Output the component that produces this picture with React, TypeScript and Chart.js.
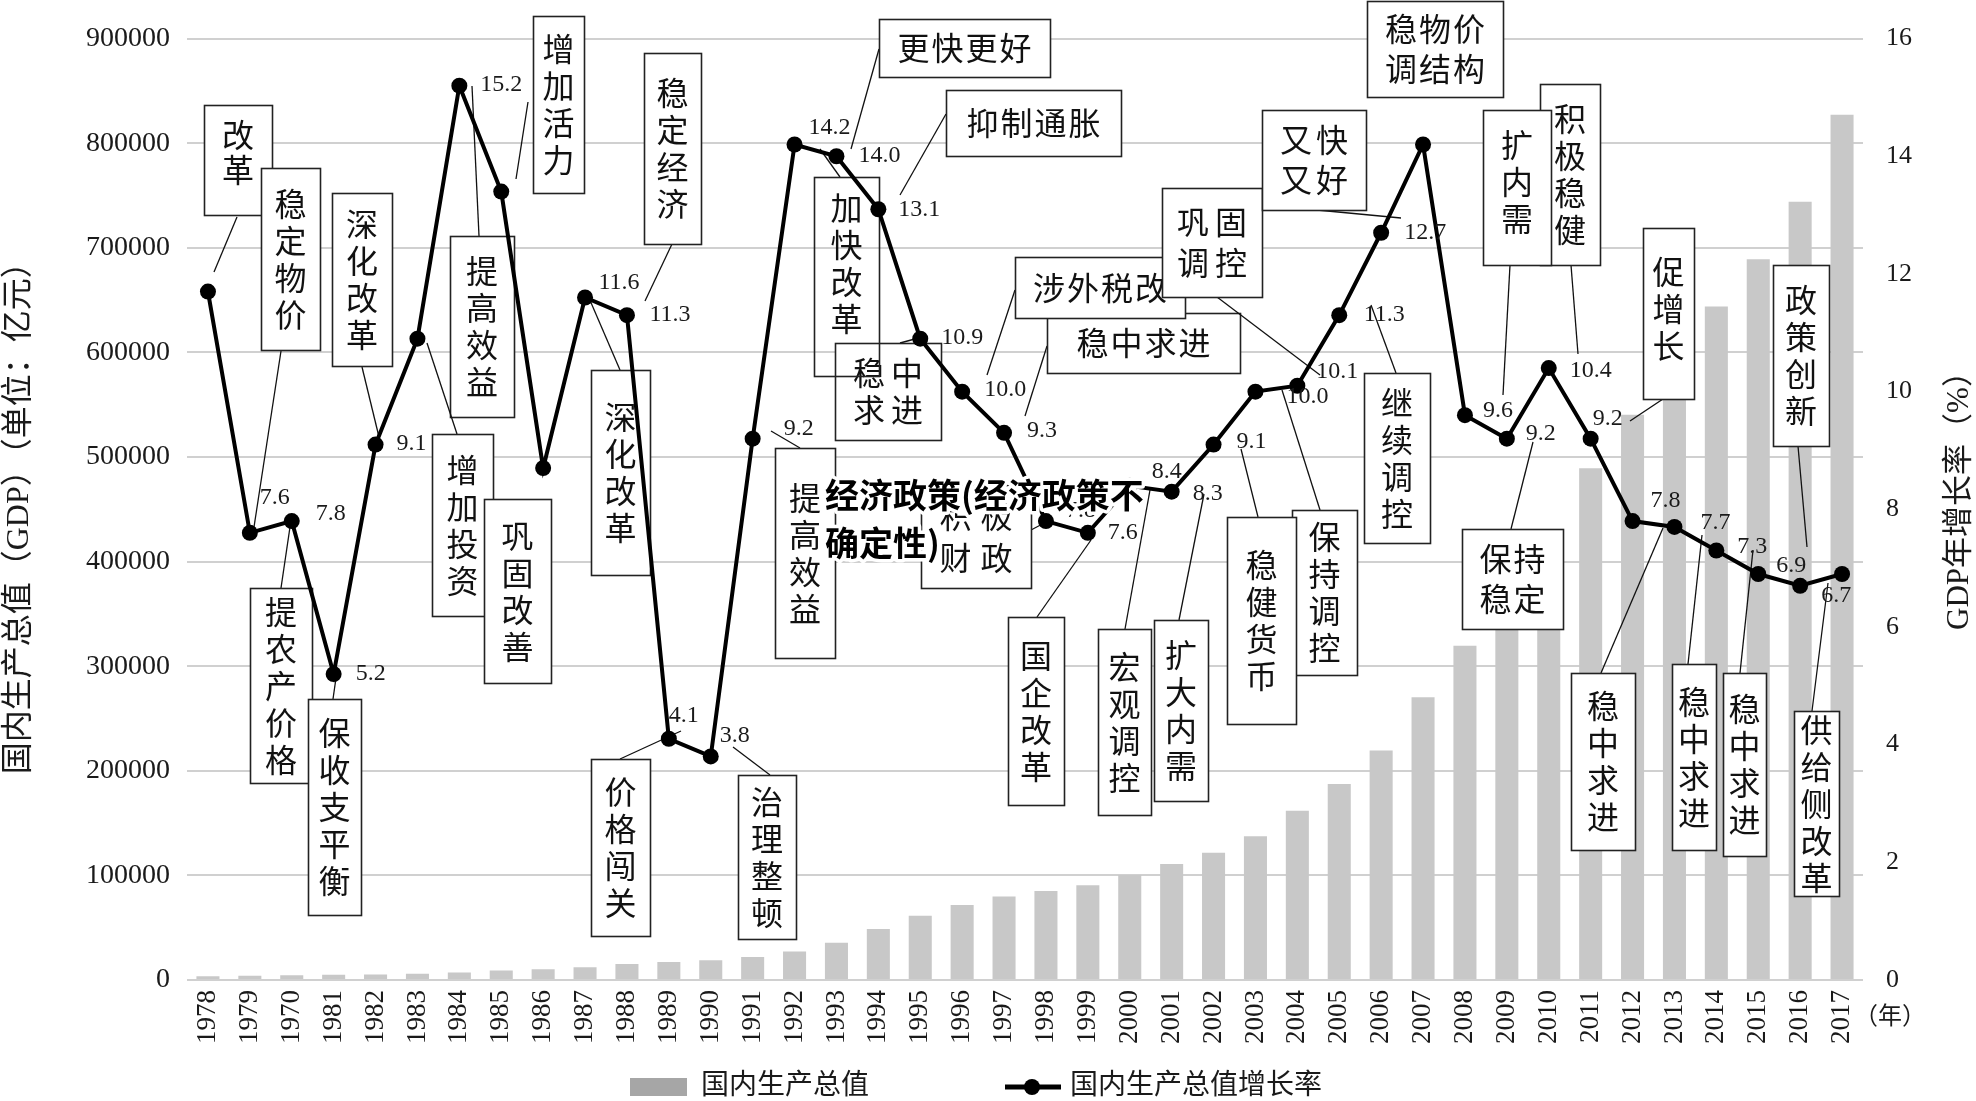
import React, { useEffect, useRef } from 'react';
import { Chart, registerables } from 'chart.js';

Chart.register(...registerables);

// ---------- data ----------
const yearLabels = [
  '1978', '1979', '1970', '1981', '1982', '1983', '1984', '1985', '1986', '1987',
  '1988', '1989', '1990', '1991', '1992', '1993', '1994', '1995', '1996', '1997',
  '1998', '1999', '2000', '2001', '2002', '2003', '2004', '2005', '2006', '2007',
  '2008', '2009', '2010', '2011', '2012', '2013', '2014', '2015', '2016', '2017',
];

// 国内生产总值（亿元）
const gdpValues = [
  3679, 4100, 4588, 4936, 5373, 6021, 7279, 9099, 10376, 12175,
  15180, 17180, 18873, 22006, 27195, 35673, 48638, 61340, 71814, 79715,
  85196, 90564, 100280, 110863, 121717, 137422, 161840, 187319, 219439, 270232,
  319516, 349081, 413030, 489301, 540367, 595244, 643974, 689052, 744127, 827122,
];

// 国内生产总值增长率（%）
const growthValues = [
  11.7, 7.6, 7.8, 5.2, 9.1, 10.9, 15.2, 13.4, 8.7, 11.6,
  11.3, 4.1, 3.8, 9.2, 14.2, 14.0, 13.1, 10.9, 10.0, 9.3,
  7.8, 7.6, 8.4, 8.3, 9.1, 10.0, 10.1, 11.3, 12.7, 14.2,
  9.6, 9.2, 10.4, 9.2, 7.8, 7.7, 7.3, 6.9, 6.7, 6.9,
];

// which growth points carry a value label
const growthLabelShown = [
  false, true, true, true, true, false, true, false, false, true,
  true, true, true, true, true, true, true, true, true, true,
  true, true, true, true, true, true, true, true, true, false,
  true, true, true, true, true, true, true, true, true, false,
];

const seriesNames = ['国内生产总值', '国内生产总值增长率'];
const leftAxisTitle = '国内生产总值（GDP）（单位：亿元）';
const rightAxisTitle = 'GDP年增长率（%）';
const xUnitLabel = '（年）';
const overlayTitleLines = ['经济政策(经济政策不', '确定性)'];

// ---------- layout (annotation placement, px offsets) ----------
const growthLabelOffsets: [number, number][] = [
  [0, 0], [25, -35], [39, -7], [37, 0], [36, -1], [0, 0], [42, -1], [0, 0], [0, 0], [34, -15],
  [43, 0], [15, -23], [24, -21], [46, -10], [35, -17], [43, -1], [41, 0], [42, -1], [43, -2], [38, -2],
  [35, -10], [35, 0], [37, -14], [36, 2], [38, -3], [52, 5], [40, -14], [45, 0], [44, 0], [0, 0],
  [33, -4], [34, -5], [42, 3], [17, -20], [33, -20], [41, -4], [36, -4], [33, -8], [36, 10], [0, 0],
];

type Note = {
  rows: string[];
  vertical?: boolean;
  pitch?: number;
  rowPitch?: number;
  dy?: number;
  noFill?: boolean;
  box: [number, number, number, number];
  leader?: [number, number, number, number];
};

const policyNotes: Note[] = [
  { rows: ['改革'], vertical: true, pitch: 35, dy: -8, box: [204, 105, 272, 215], leader: [237, 217, 214, 272] },
  { rows: ['稳定物价'], vertical: true, box: [261, 168, 320, 350], leader: [281, 351, 254, 527] },
  { rows: ['深化改革'], vertical: true, box: [332, 193, 392, 366], leader: [362, 367, 379, 437] },
  { rows: ['增加活力'], vertical: true, box: [533, 16, 584, 193], leader: [528, 102, 516, 179] },
  { rows: ['提高效益'], vertical: true, box: [450, 236, 514, 417], leader: [479, 236, 472, 86] },
  { rows: ['稳定经济'], vertical: true, box: [644, 53, 701, 244], leader: [672, 244, 645, 301] },
  { rows: ['增加投资'], vertical: true, box: [432, 434, 493, 616], leader: [457, 434, 427, 343] },
  { rows: ['巩固改善'], vertical: true, box: [484, 499, 551, 683] },
  { rows: ['深化改革'], vertical: true, box: [591, 370, 650, 575], leader: [620, 370, 589, 298] },
  { rows: ['提农产价格'], vertical: true, box: [250, 588, 312, 783], leader: [281, 588, 290, 527] },
  { rows: ['保收支平衡'], vertical: true, box: [308, 699, 361, 915], leader: [333, 699, 336, 678] },
  { rows: ['价格闯关'], vertical: true, box: [591, 759, 650, 936], leader: [620, 759, 681, 731] },
  { rows: ['治理整顿'], vertical: true, box: [738, 775, 796, 939], leader: [770, 775, 733, 747] },
  { rows: ['提高效益'], vertical: true, box: [775, 448, 835, 658], leader: [800, 448, 771, 431] },
  { rows: ['积极', '财政'], pitch: 41, rowPitch: 42, box: [921, 485, 1031, 588], leader: [1031, 530, 1050, 520] },
  { rows: ['稳中', '求进'], pitch: 38, rowPitch: 37, box: [835, 343, 941, 440], leader: [900, 343, 926, 336] },
  { rows: ['加快改革'], vertical: true, dy: -13, noFill: true, box: [814, 177, 879, 376], leader: [840, 177, 820, 149] },
  { rows: ['更快更好'], box: [879, 19, 1050, 77], leader: [879, 49, 851, 149] },
  { rows: ['抑制通胀'], box: [946, 90, 1121, 156], leader: [946, 114, 900, 195] },
  { rows: ['稳中求进'], box: [1047, 313, 1240, 373], leader: [1047, 346, 1025, 416] },
  { rows: ['涉外税改'], box: [1015, 257, 1185, 318], leader: [1015, 290, 987, 375] },
  { rows: ['巩固', '调控'], pitch: 38, rowPitch: 41, box: [1162, 188, 1262, 297], leader: [1217, 297, 1320, 375] },
  { rows: ['又快', '又好'], pitch: 36, rowPitch: 40, box: [1262, 110, 1366, 210], leader: [1317, 210, 1401, 218] },
  { rows: ['稳物价', '调结构'], pitch: 34, rowPitch: 40, box: [1367, 1, 1503, 97] },
  { rows: ['积极稳健'], vertical: true, box: [1540, 84, 1600, 265], leader: [1571, 265, 1578, 354] },
  { rows: ['扩内需'], vertical: true, dy: -6, box: [1483, 110, 1551, 265], leader: [1510, 265, 1503, 395] },
  { rows: ['促增长'], vertical: true, dy: -5, box: [1643, 228, 1694, 399], leader: [1663, 399, 1630, 421] },
  { rows: ['政策创新'], vertical: true, box: [1773, 265, 1829, 446], leader: [1798, 446, 1807, 547] },
  { rows: ['继续调控'], vertical: true, box: [1364, 373, 1430, 543], leader: [1396, 373, 1371, 305] },
  { rows: ['保持调控'], vertical: true, box: [1292, 510, 1357, 675], leader: [1320, 510, 1282, 390] },
  { rows: ['稳健货币'], vertical: true, box: [1227, 517, 1296, 724], leader: [1258, 517, 1241, 449] },
  { rows: ['保持', '稳定'], pitch: 34, rowPitch: 40, box: [1462, 529, 1563, 629], leader: [1511, 529, 1533, 442] },
  { rows: ['国企改革'], vertical: true, box: [1008, 617, 1064, 805], leader: [1037, 617, 1091, 540] },
  { rows: ['宏观调控'], vertical: true, box: [1098, 629, 1151, 815], leader: [1125, 629, 1150, 490] },
  { rows: ['扩大内需'], vertical: true, box: [1154, 620, 1208, 801], leader: [1179, 620, 1204, 494] },
  { rows: ['稳中求进'], vertical: true, box: [1571, 673, 1635, 850], leader: [1601, 673, 1663, 528] },
  { rows: ['稳中求进'], vertical: true, box: [1672, 664, 1716, 850], leader: [1688, 664, 1702, 535] },
  { rows: ['稳中求进'], vertical: true, box: [1723, 673, 1766, 856], leader: [1740, 673, 1753, 550] },
  { rows: ['供给侧改革'], vertical: true, box: [1794, 711, 1839, 896], leader: [1812, 711, 1828, 583] },
];

const SERIF = "'Liberation Serif', 'Noto Sans CJK SC', serif";
const CJK = "'Noto Sans CJK SC', 'Liberation Serif', sans-serif";
const BAR_COLOR = '#c8c8c8';
const GRID_COLOR = '#d0d0d0';
const TEXT_COLOR = '#1a1a1a';

function drawNote(ctx: CanvasRenderingContext2D, n: Note) {
  const [x1, y1, x2, y2] = n.box;
  if (n.leader) {
    const [a, b, c, d] = n.leader;
    ctx.beginPath();
    ctx.moveTo(a, b);
    ctx.lineTo(c, d);
    ctx.strokeStyle = '#111';
    ctx.lineWidth = 1.3;
    ctx.stroke();
  }
  if (!n.noFill) {
    ctx.fillStyle = '#ffffff';
    ctx.fillRect(x1, y1, x2 - x1, y2 - y1);
  }
  ctx.strokeStyle = '#222';
  ctx.lineWidth = 1.6;
  ctx.strokeRect(x1 + 0.5, y1 + 0.5, x2 - x1, y2 - y1);
  ctx.fillStyle = '#111';
  ctx.font = `32px ${CJK}`;
  ctx.textAlign = 'center';
  ctx.textBaseline = 'middle';
  const cx = (x1 + x2) / 2;
  const cy = (y1 + y2) / 2 + (n.dy ?? 0);
  if (n.vertical) {
    const chars = Array.from(n.rows[0]);
    const p = n.pitch ?? 37;
    const start = cy - ((chars.length - 1) * p) / 2;
    chars.forEach((ch, i) => ctx.fillText(ch, cx, start + i * p));
  } else {
    const p = n.pitch ?? 34;
    const rp = n.rowPitch ?? 40;
    n.rows.forEach((row, r) => {
      const chars = Array.from(row);
      const y = cy + (r - (n.rows.length - 1) / 2) * rp;
      const sx = cx - ((chars.length - 1) * p) / 2;
      chars.forEach((ch, i) => ctx.fillText(ch, sx + i * p, y));
    });
  }
}

const annotationPlugin = {
  id: 'policyAnnotations',
  beforeDatasetDraw(chart: any, args: any) {
    if (args.index !== 0) return;
    const ctx: CanvasRenderingContext2D = chart.ctx;
    ctx.save();
    policyNotes.forEach((n) => drawNote(ctx, n));
    ctx.restore();
  },
  afterDatasetsDraw(chart: any) {
    const ctx: CanvasRenderingContext2D = chart.ctx;
    const meta = chart.getDatasetMeta(0);
    ctx.save();
    ctx.font = `24px ${SERIF}`;
    ctx.fillStyle = '#1a1a1a';
    ctx.textAlign = 'center';
    ctx.textBaseline = 'middle';
    meta.data.forEach((pt: any, i: number) => {
      if (!growthLabelShown[i]) return;
      const [dx, dy] = growthLabelOffsets[i];
      ctx.fillText(growthValues[i].toFixed(1), pt.x + dx, pt.y + dy);
    });
    // overlay title
    ctx.font = `bold 34px ${CJK}`;
    ctx.textAlign = 'left';
    ctx.textBaseline = 'middle';
    ctx.lineJoin = 'round';
    overlayTitleLines.forEach((line, i) => {
      const y = 495 + i * 48;
      ctx.strokeStyle = '#ffffff';
      ctx.lineWidth = 7;
      ctx.strokeText(line, 825, y);
      ctx.fillStyle = '#000000';
      ctx.fillText(line, 825, y);
    });
    ctx.restore();
  },
  afterDraw(chart: any) {
    const ctx: CanvasRenderingContext2D = chart.ctx;
    const area = chart.chartArea;
    ctx.save();
    ctx.fillStyle = TEXT_COLOR;
    ctx.textAlign = 'center';
    ctx.textBaseline = 'middle';
    // left axis title
    ctx.save();
    ctx.translate(20, (area.top + area.bottom) / 2 + 1);
    ctx.rotate(-Math.PI / 2);
    ctx.font = `32px ${SERIF}`;
    ctx.fillText(leftAxisTitle, 0, 0);
    ctx.restore();
    // right axis title
    ctx.save();
    ctx.translate(1960, 493);
    ctx.rotate(-Math.PI / 2);
    ctx.font = `31px ${SERIF}`;
    ctx.fillText(rightAxisTitle, 0, 0);
    ctx.restore();
    // x unit
    ctx.font = `24px ${SERIF}`;
    ctx.fillText(xUnitLabel, 1890, 1018);
    // legend
    const ly = 1087;
    ctx.fillStyle = '#a6a6a6';
    ctx.fillRect(630, ly - 9, 57, 18);
    ctx.fillStyle = TEXT_COLOR;
    ctx.font = `28px ${SERIF}`;
    ctx.textAlign = 'left';
    ctx.fillText(seriesNames[0], 701, ly);
    ctx.beginPath();
    ctx.moveTo(1005, ly);
    ctx.lineTo(1061, ly);
    ctx.strokeStyle = '#000';
    ctx.lineWidth = 5;
    ctx.stroke();
    ctx.beginPath();
    ctx.arc(1032, ly, 8, 0, Math.PI * 2);
    ctx.fillStyle = '#000';
    ctx.fill();
    ctx.fillStyle = TEXT_COLOR;
    ctx.fillText(seriesNames[1], 1070, ly);
    ctx.restore();
  },
};

export default function App() {
  const canvasRef = useRef<HTMLCanvasElement | null>(null);

  useEffect(() => {
    const canvas = canvasRef.current;
    if (!canvas) return;
    Chart.defaults.font.family = SERIF;
    Chart.defaults.color = TEXT_COLOR;
    const chart = new Chart(canvas, {
      type: 'bar',
      data: {
        labels: yearLabels,
        datasets: [
          {
            type: 'line',
            label: seriesNames[1],
            data: growthValues,
            yAxisID: 'y1',
            order: 0,
            borderColor: '#000000',
            backgroundColor: '#000000',
            borderWidth: 4,
            pointRadius: 8,
            pointBackgroundColor: '#000000',
            pointBorderWidth: 0,
            tension: 0,
            clip: false,
          } as any,
          {
            type: 'bar',
            label: seriesNames[0],
            data: gdpValues,
            yAxisID: 'y',
            order: 1,
            backgroundColor: BAR_COLOR,
            borderWidth: 0,
            categoryPercentage: 1,
            barPercentage: 0.55,
          } as any,
        ],
      },
      options: {
        responsive: false,
        maintainAspectRatio: false,
        animation: false,
        devicePixelRatio: 1,
        layout: { padding: { top: 33, left: 0, right: 0, bottom: 0 } },
        plugins: {
          legend: { display: false },
          tooltip: { enabled: false },
        },
        scales: {
          x: {
            grid: { display: false, drawTicks: false },
            border: { display: false },
            ticks: {
              autoSkip: false,
              maxRotation: 90,
              minRotation: 90,
              padding: 10,
              color: TEXT_COLOR,
              font: { size: 27, family: SERIF },
            },
            afterFit: (s: any) => {
              s.height = 121;
            },
          },
          y: {
            position: 'left',
            min: 0,
            max: 900000,
            grid: { color: GRID_COLOR, lineWidth: 2, drawTicks: false },
            border: { display: false },
            ticks: {
              stepSize: 100000,
              padding: 17,
              color: TEXT_COLOR,
              font: { size: 28, family: SERIF },
              callback: (v: any) => String(v),
            },
            afterFit: (s: any) => {
              s.width = 187;
            },
          },
          y1: {
            position: 'right',
            min: 0,
            max: 16,
            grid: { display: false, drawTicks: false },
            border: { display: false },
            ticks: {
              stepSize: 2,
              padding: 23,
              color: TEXT_COLOR,
              font: { size: 26, family: SERIF },
              callback: (v: any) => String(v),
            },
            afterFit: (s: any) => {
              s.width = 113;
            },
          },
        },
      } as any,
      plugins: [annotationPlugin as any],
    });
    return () => chart.destroy();
  }, []);

  return (
    <canvas
      ref={canvasRef}
      width={1976}
      height={1101}
      style={{ position: 'fixed', left: 0, top: 0, display: 'block', background: '#ffffff' }}
    />
  );
}
